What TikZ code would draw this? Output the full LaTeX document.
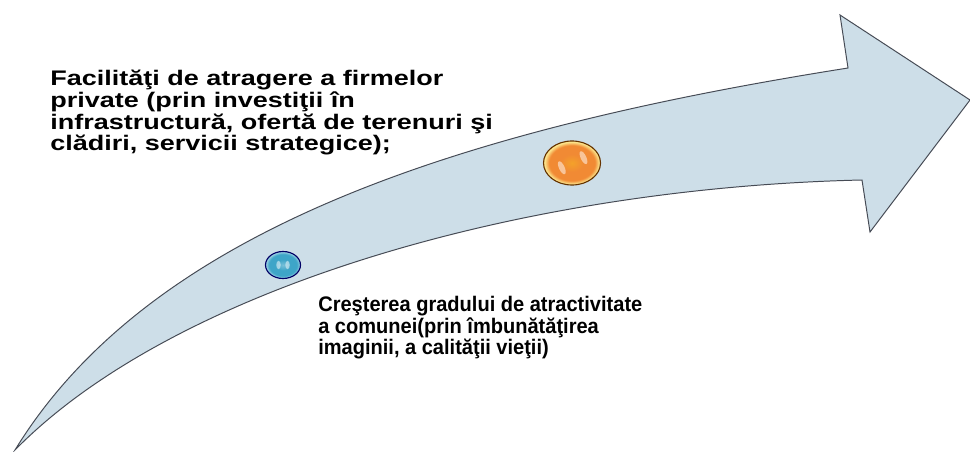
\documentclass[tikz,border=0pt]{standalone}
\usepackage{fontspec}
\setmainfont{Liberation Sans}
\newfontfamily\widesans[FakeStretch=1.28]{Liberation Sans}
\newfontfamily\narrowsans[FakeStretch=0.95]{Liberation Sans}
\usetikzlibrary{shapes.geometric}

\definecolor{arrowfill}{RGB}{205,222,232}
\definecolor{arrowline}{RGB}{70,75,85}
\definecolor{ballorange}{RGB}{241,138,52}
\definecolor{ballblue}{RGB}{62,165,200}

\pgfdeclareradialshading{orangeshade}{\pgfpoint{0bp}{0bp}}{%
    color(0bp)=(ballorange!80!yellow); color(10bp)=(ballorange);
    color(20bp)=(ballorange); color(24bp)=(ballorange!45!yellow!50!white);
    color(50bp)=(ballorange!45!yellow!50!white)}
\pgfdeclareradialshading{blueshade}{\pgfpoint{0bp}{0bp}}{%
    color(0bp)=(ballblue!70!white); color(10bp)=(ballblue);
    color(20bp)=(ballblue); color(24bp)=(ballblue!55!white);
    color(50bp)=(ballblue!55!white)}

\begin{document}
\begin{tikzpicture}[
    x=0.025cm, y=-0.025cm,
    bigarrow/.style={
        draw=arrowline,
        fill=arrowfill,
        line width=0.7pt,
        line join=miter
    },
    ball/.style={
        ellipse,
        draw=#1!40!black,
        line width=0.8pt,
        inner sep=0pt,
        shading=#1shade
    },
    shine/.style={fill=white, opacity=0.5},
    note/.style={
        align=left,
        anchor=north west,
        inner sep=0pt
    }
]
\useasboundingbox (0,0) rectangle (970,452);

% curved arrow
\draw[bigarrow] (15,450) .. controls (150,230) and (456,130) .. (848,68)
    -- (840,15) -- (970,100) -- (870,232) -- (862,180)
    .. controls (512,188) and (170,292) .. (15,450) -- cycle;

\node[ball=blue, minimum width=0.875cm, minimum height=0.675cm] (blueball) at (283,265) {};
\node[ball=orange, minimum width=1.425cm, minimum height=1.1cm] (orangeball) at (572,163) {};

% highlights
\fill[shine] ([xshift=-3.2pt]blueball.center) ellipse [x radius=1.6pt, y radius=3pt];
\fill[shine] ([xshift=3.2pt]blueball.center) ellipse [x radius=1.6pt, y radius=3pt];
\fill[shine, rotate around={25:([xshift=-8pt]orangeball.center)}] ([xshift=-8pt]orangeball.center) ellipse [x radius=2pt, y radius=5pt];
\fill[shine, rotate around={25:([xshift=9pt]orangeball.center)}] ([xshift=9pt]orangeball.center) ellipse [x radius=2pt, y radius=5pt];

\node[note, font=\fontsize{15}{15.4}\selectfont\widesans\bfseries] (firms) at (50,70) {Facilităţi de atragere  a firmelor\\
private (prin investiţii în\\
infrastructură, ofertă de terenuri şi\\
clădiri, servicii strategice);};

\node[note, font=\fontsize{15}{15.4}\selectfont\narrowsans\bfseries] (attract) at (318,296) {Creşterea  gradului de atractivitate\\
a comunei(prin  îmbunătăţirea\\
imaginii, a calităţii vieţii)};

\end{tikzpicture}
\end{document}
